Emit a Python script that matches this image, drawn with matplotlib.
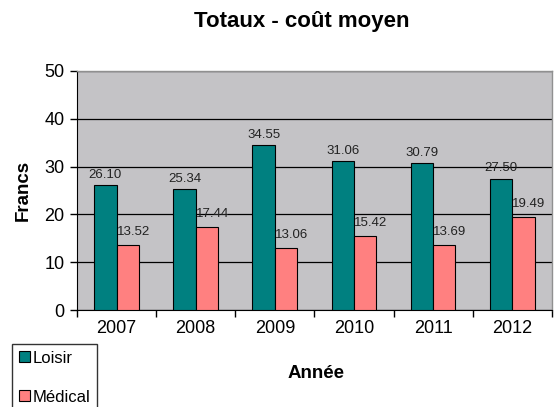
import matplotlib
matplotlib.use("Agg")
import matplotlib.pyplot as plt
import numpy as np
from matplotlib.ticker import MultipleLocator, FixedLocator, NullFormatter

plt.rcParams['font.family'] = ['Liberation Sans', 'DejaVu Sans']

years = ["2007", "2008", "2009", "2010", "2011", "2012"]
loisir = [26.10, 25.34, 34.55, 31.06, 30.79, 27.50]
medical = [13.52, 17.44, 13.06, 15.42, 13.69, 19.49]
series_names = ["Loisir", "Médical"]
title = "Totaux - coût moyen"
xlabel = "Année"
ylabel = "Francs"

teal = "#008080"
salmon = "#FF8080"

fig = plt.figure(figsize=(5.54, 4.07), dpi=100)
ax = fig.add_axes([0.139, 0.238, 0.857, 0.588])
ax.set_facecolor("#C4C3C6")

x = np.arange(len(years))
w = 0.283
b1 = ax.bar(x - w / 2, loisir, w, color=teal, edgecolor="black", linewidth=0.8, zorder=3, label=series_names[0])
b2 = ax.bar(x + w / 2, medical, w, color=salmon, edgecolor="black", linewidth=0.8, zorder=3, label=series_names[1])

for xi, v in zip(x, loisir):
    ax.annotate(f"{v:.2f}", (xi - w / 2, v), xytext=(0, 3), textcoords="offset points",
                ha="center", va="bottom", fontsize=9.5, color="#222222", zorder=4)
for xi, v in zip(x, medical):
    ax.annotate(f"{v:.2f}", (xi + w / 2, v), xytext=(-8, 5), textcoords="offset points",
                ha="left", va="bottom", fontsize=9.5, color="#222222", zorder=4)

ax.set_xlim(-0.5, len(years) - 0.5)
ax.set_ylim(0, 50)
ax.yaxis.set_major_locator(MultipleLocator(10))
ax.grid(axis="y", color="black", linewidth=0.9, zorder=1)
ax.set_xticks(x)
ax.set_xticklabels(years, fontsize=13)
ax.tick_params(axis="x", which="major", length=0, pad=7)
ax.xaxis.set_minor_locator(FixedLocator(np.arange(-0.5, len(years), 1)))
ax.xaxis.set_minor_formatter(NullFormatter())
ax.tick_params(axis="x", which="minor", length=5, width=1, direction="out")
ax.tick_params(axis="y", labelsize=13, length=5, width=1, direction="out", pad=4)

for s in ["top", "right"]:
    ax.spines[s].set_color("#909090")
    ax.spines[s].set_linewidth(1)
ax.spines["left"].set_color("black")
ax.spines["bottom"].set_color("black")

ax.set_ylabel(ylabel, fontsize=13.5, fontweight="bold", labelpad=9)
fig.text(0.570, 0.083, xlabel, fontsize=13.5, fontweight="bold", ha="center", va="center")
fig.text(0.544, 0.946, title, fontsize=16, fontweight="bold", ha="center", va="center")

leg = fig.legend(handles=[b1, b2], labels=series_names, loc="upper left",
                 bbox_to_anchor=(0.022, 0.155), frameon=True, fancybox=False,
                 edgecolor="black", fontsize=12, handlelength=0.65, handleheight=0.65,
                 handletextpad=0.15, labelspacing=1.45, borderpad=0.4, borderaxespad=0)
leg.get_frame().set_linewidth(1)

fig.savefig("out.png", dpi=100)
